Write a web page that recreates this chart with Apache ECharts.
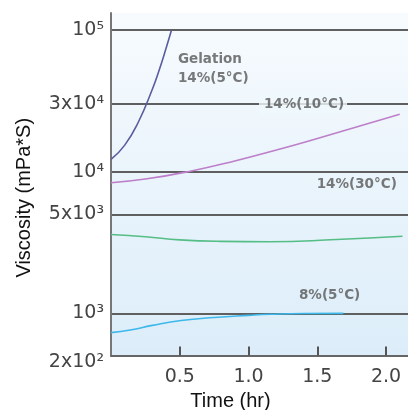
<!DOCTYPE html>
<html><head><meta charset="utf-8">
<script src="https://cdn.jsdelivr.net/npm/echarts@6/dist/echarts.min.js"></script>
<style>html,body{margin:0;padding:0;background:#fff}#c{width:408px;height:410px}</style>
</head><body><div id="c"></div>
<script>
// ---- data (viscosity in mPa*S, time in hr) ----
const gelationTime = [0, 0.1, 0.2, 0.3, 0.35, 0.4, 0.44];
const gelationVisc = [12200, 15400, 22500, 38000, 52000, 74000, 100000];
const c10Time = [0, 0.25, 0.56, 0.9, 1.23, 1.47, 2.1];
const c10Visc = [8360, 8870, 10000, 11900, 14450, 16800, 25400];
const c30Time = [0, 0.25, 0.5, 0.8, 1.15, 1.64, 2.12];
const c30Visc = [3600, 3470, 3300, 3220, 3200, 3320, 3500];
const p8Time = [0, 0.14, 0.3, 0.51, 0.75, 1.0, 1.16, 1.4, 1.69];
const p8Visc = [731, 762, 822, 890, 935, 968, 985, 998, 1000];

const yTickValues = [504, 1000, 5000, 10000, 30000, 100000];
const yTickLabels = ['2x10²', '10³', '5x10³', '10⁴', '3x10⁴', '10⁵'];
const xTickValues = [0.5, 1.0, 1.5, 2.0];
const xTickLabels = ['0.5', '1.0', '1.5', '2.0'];
const yAxisMin = 504, yAxisMax = 131800;
const xAxisMax = 2.16;

const noteTexts = ['Gelation\n14%(5°C)', '14%(10°C)', '14%(30°C)', '8%(5°C)'];
const noteTime = [0.487, 1.076, 1.496, 1.367];
const noteVisc = [53000, 30000, 8054, 1346];

// ---- build ----
const lg = v => Math.log10(v);
const yTickPos = yTickValues.map(lg);
const pairs = (t, v) => t.map((x, i) => [x, lg(v[i])]);

function lineSeries(name, t, v, color) {
  return {
    name, type: 'line', data: pairs(t, v), smooth: true, showSymbol: false,
    lineStyle: { color, width: 1.6 }, z: 5
  };
}

const labelFont = { fontSize: 19, color: '#444', fontFamily: 'DejaVu Sans' };
const chart = echarts.init(document.getElementById('c'), null, { renderer: 'canvas' });
chart.setOption({
  animation: false,
  grid: {
    left: 111, right: 0, top: 13, bottom: 54.5, show: true, borderWidth: 0,
    outerBoundsMode: 'none', containLabel: false,
    backgroundColor: { type: 'linear', x: 0, y: 0, x2: 0, y2: 1,
      colorStops: [{ offset: 0, color: '#f7fbfe' }, { offset: 1, color: '#dcedf9' }] }
  },
  xAxis: {
    type: 'value', min: 0, max: xAxisMax,
    axisLine: { lineStyle: { color: '#666', width: 2 } },
    axisTick: { inside: true, length: 9, customValues: xTickValues, lineStyle: { color: '#555', width: 2 } },
    axisLabel: Object.assign({
      customValues: xTickValues, margin: 12,
      formatter: v => { const i = xTickValues.findIndex(x => Math.abs(x - v) < 1e-6); return i < 0 ? '' : xTickLabels[i]; }
    }, labelFont),
    splitLine: { show: false },
    name: 'Time (hr)', nameLocation: 'middle', nameGap: 36,
    nameTextStyle: { fontSize: 20, fontFamily: 'Liberation Sans', color: '#111', padding: [0, 58, 0, 0] }
  },
  yAxis: {
    type: 'value', min: lg(yAxisMin), max: lg(yAxisMax),
    axisLine: { show: true, lineStyle: { color: '#777', width: 2 } },
    axisTick: { show: false, customValues: yTickPos },
    axisLabel: Object.assign({
      customValues: yTickPos, margin: 7,
      formatter: v => {
        const i = yTickPos.findIndex(x => Math.abs(x - v) < 1e-6);
        if (i < 0) return '';
        return i === 0 ? '{low|' + yTickLabels[i] + '}' : yTickLabels[i];
      },
      rich: { low: Object.assign({ padding: [14, 0, 0, 0] }, labelFont) }
    }, labelFont),
    splitLine: { show: true, lineStyle: { color: '#5f5f5f', width: 2 } },
    name: 'Viscosity (mPa*S)', nameLocation: 'middle', nameGap: 77,
    nameTextStyle: { fontSize: 20, fontFamily: 'Liberation Sans', color: '#111', padding: [0, 27, 0, 0] }
  },
  series: [
    lineSeries('Gelation 14%(5°C)', gelationTime, gelationVisc, '#5a5c9e'),
    lineSeries('14%(10°C)', c10Time, c10Visc, '#bd7fc9'),
    lineSeries('14%(30°C)', c30Time, c30Visc, '#55bd86'),
    lineSeries('8%(5°C)', p8Time, p8Visc, '#3db8ea'),
    {
      type: 'scatter', symbolSize: 0, z: 10, silent: true,
      data: noteTexts.map((s, i) => ({
        value: [noteTime[i], lg(noteVisc[i])], name: s,
        label: i === 1 ? { backgroundColor: '#eff7fc', padding: [2, 3, 2, 5] } : {}
      })),
      label: {
        show: true, position: 'right', distance: 0, formatter: p => p.name,
        fontSize: 13.5, fontWeight: 'bold', fontFamily: 'DejaVu Sans', color: '#575757', lineHeight: 19
      }
    }
  ]
});
</script></body></html>
